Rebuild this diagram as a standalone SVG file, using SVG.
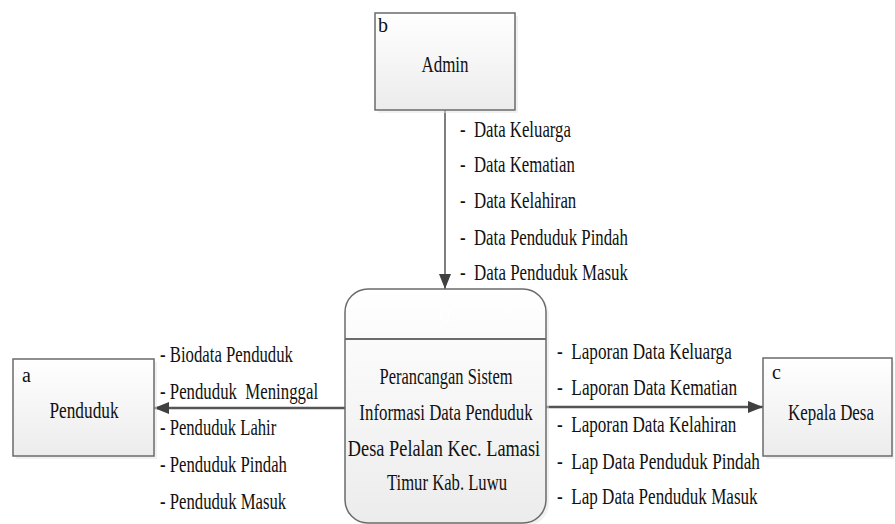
<svg xmlns="http://www.w3.org/2000/svg" width="895" height="524" viewBox="0 0 895 524">
<defs>
<linearGradient id="g" x1="0" y1="0" x2="0" y2="1">
<stop offset="0" stop-color="#ffffff"/>
<stop offset="1" stop-color="#ececec"/>
</linearGradient>
<marker id="ah" markerUnits="userSpaceOnUse" markerWidth="16" markerHeight="14" refX="15" refY="6" orient="auto">
<path d="M0,0 L15,6 L0,12 Z" fill="#404040"/>
</marker>
<style>
text{font-family:"Liberation Serif","Times New Roman",serif;font-size:23px;fill:#111;white-space:pre}
.lb{font-size:20px}
.box{fill:url(#g);stroke:#6b6b6b;stroke-width:1.5}
.sh{fill:#e4e4e4;opacity:0.5}
.c{text-anchor:middle}
.ln{stroke:#555;fill:none}
</style>
</defs>
<g id="connectors">
<line class="ln" x1="445" y1="110" x2="445" y2="289" stroke-width="1.5" marker-end="url(#ah)"/>
<line class="ln" x1="345" y1="408" x2="154" y2="408" stroke-width="2.5" marker-end="url(#ah)"/>
<line class="ln" x1="546" y1="407" x2="763" y2="407" stroke-width="2.5" marker-end="url(#ah)"/>
<text transform="translate(460,137) scale(0.76,1)" textLength="146" lengthAdjust="spacingAndGlyphs">-  Data Keluarga</text>
<text transform="translate(460,172) scale(0.76,1)" textLength="151" lengthAdjust="spacingAndGlyphs">-  Data Kematian</text>
<text transform="translate(460,208) scale(0.76,1)" textLength="153" lengthAdjust="spacingAndGlyphs">-  Data Kelahiran</text>
<text transform="translate(460,245) scale(0.76,1)" textLength="221" lengthAdjust="spacingAndGlyphs">-  Data Penduduk Pindah</text>
<text transform="translate(460,280) scale(0.76,1)" textLength="221" lengthAdjust="spacingAndGlyphs">-  Data Penduduk Masuk</text>
<text transform="translate(160,362) scale(0.76,1)" textLength="175" lengthAdjust="spacingAndGlyphs">- Biodata Penduduk</text>
<text transform="translate(160,399) scale(0.76,1)" textLength="208" lengthAdjust="spacingAndGlyphs">- Penduduk  Meninggal</text>
<text transform="translate(160,435) scale(0.76,1)" textLength="153" lengthAdjust="spacingAndGlyphs">- Penduduk Lahir</text>
<text transform="translate(160,472) scale(0.76,1)" textLength="167" lengthAdjust="spacingAndGlyphs">- Penduduk Pindah</text>
<text transform="translate(160,509) scale(0.76,1)" textLength="166" lengthAdjust="spacingAndGlyphs">- Penduduk Masuk</text>
<text transform="translate(557,359) scale(0.76,1)" textLength="230" lengthAdjust="spacingAndGlyphs">-  Laporan Data Keluarga</text>
<text transform="translate(557,395) scale(0.76,1)" textLength="237" lengthAdjust="spacingAndGlyphs">-  Laporan Data Kematian</text>
<text transform="translate(557,432) scale(0.76,1)" textLength="236" lengthAdjust="spacingAndGlyphs">-  Laporan Data Kelahiran</text>
<text transform="translate(557,469) scale(0.76,1)" textLength="267" lengthAdjust="spacingAndGlyphs">-  Lap Data Penduduk Pindah</text>
<text transform="translate(557,504) scale(0.76,1)" textLength="264" lengthAdjust="spacingAndGlyphs">-  Lap Data Penduduk Masuk</text>
</g>
<g id="admin">
<rect class="sh" x="378" y="16" width="140" height="97"/>
<rect class="box" x="375" y="13" width="140" height="97"/>
<text class="lb" x="378" y="32">b</text>
<text class="c" transform="translate(445,72) scale(0.76,1)" textLength="62" lengthAdjust="spacingAndGlyphs">Admin</text>
</g>
<g id="penduduk">
<rect class="sh" x="16" y="362" width="141" height="97"/>
<rect class="box" x="13" y="359" width="141" height="97"/>
<text class="lb" x="22" y="382">a</text>
<text class="c" transform="translate(84,418) scale(0.76,1)" textLength="91" lengthAdjust="spacingAndGlyphs">Penduduk</text>
</g>
<g id="kepala">
<rect class="sh" x="766" y="361" width="128" height="98"/>
<rect class="box" x="763" y="358" width="129" height="98"/>
<text class="lb" x="772" y="379">c</text>
<text class="c" transform="translate(831,420) scale(0.76,1)" textLength="113" lengthAdjust="spacingAndGlyphs">Kepala Desa</text>
</g>
<g id="process">
<rect class="sh" x="348" y="292" width="201" height="234" rx="23"/>
<rect class="box" x="345" y="289" width="201" height="234" rx="23"/>
<line x1="345" y1="339" x2="546" y2="339" stroke="#6b6b6b" stroke-width="2"/>
<text class="c" x="445" y="322" style="fill:#ffffff">0</text>
<text class="c" transform="translate(446,384) scale(0.76,1)" textLength="175" lengthAdjust="spacingAndGlyphs">Perancangan Sistem</text>
<text class="c" transform="translate(446,420) scale(0.76,1)" textLength="228" lengthAdjust="spacingAndGlyphs">Informasi Data Penduduk</text>
<text class="c" transform="translate(444,456) scale(0.76,1)" textLength="253" lengthAdjust="spacingAndGlyphs">Desa Pelalan Kec. Lamasi</text>
<text class="c" transform="translate(447,490) scale(0.76,1)" textLength="158" lengthAdjust="spacingAndGlyphs">Timur Kab. Luwu</text>
</g>
</svg>
